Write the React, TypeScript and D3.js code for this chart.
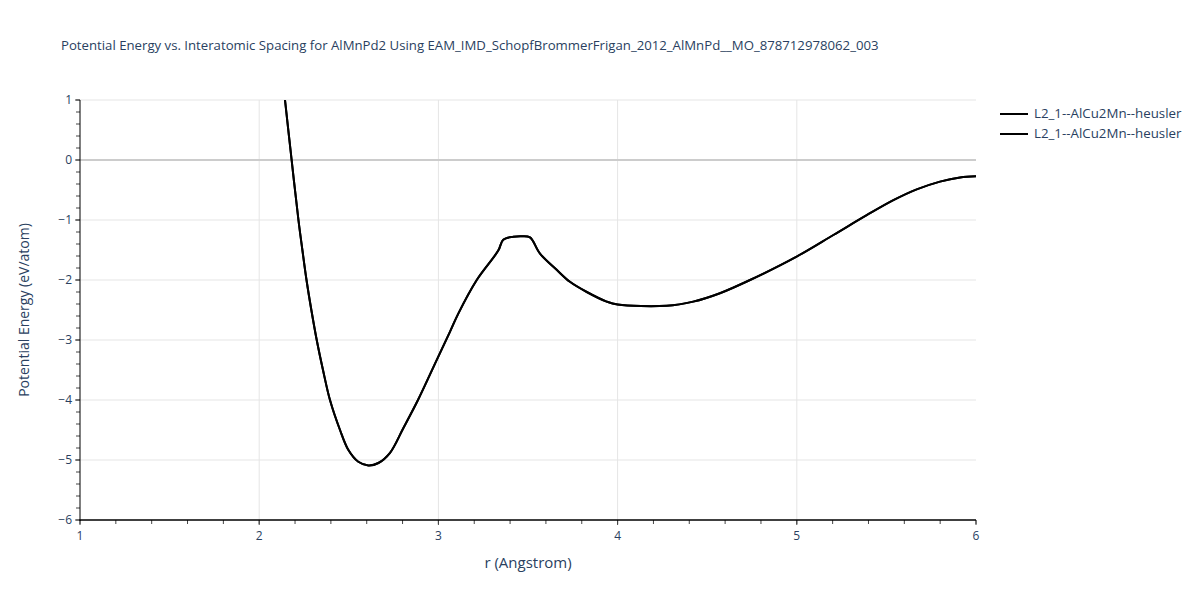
import React from "react";
import * as d3 from "d3";

const rValues = [2.144, 2.181, 2.219, 2.241, 2.264, 2.291, 2.321, 2.356, 2.395, 2.451, 2.497, 2.553, 2.609, 2.665, 2.73, 2.804, 2.886, 2.991, 3.065, 3.111, 3.214, 3.334, 3.362, 3.418, 3.465, 3.511, 3.567, 3.66, 3.734, 3.828, 3.939, 4.0, 4.274, 4.422, 4.571, 4.739, 4.999, 5.204, 5.39, 5.539, 5.669, 5.799, 5.911, 6.0];
const energyValues = [1.0, 0.0, -1.0, -1.5, -2.0, -2.5, -3.0, -3.5, -4.0, -4.5, -4.83, -5.03, -5.09, -5.05, -4.88, -4.47, -4.0, -3.33, -2.86, -2.56, -2.0, -1.51, -1.33, -1.28, -1.27, -1.29, -1.56, -1.83, -2.03, -2.2, -2.36, -2.41, -2.43, -2.36, -2.22, -2.0, -1.61, -1.25, -0.92, -0.67, -0.49, -0.36, -0.29, -0.27];
const xTicks = [1, 2, 3, 4, 5, 6];
const yTicks = [1, 0, -1, -2, -3, -4, -5, -6];
const legendLabels = ["L2_1--AlCu2Mn--heusler", "L2_1--AlCu2Mn--heusler"];
const titleText = "Potential Energy vs. Interatomic Spacing for AlMnPd2 Using EAM_IMD_SchopfBrommerFrigan_2012_AlMnPd__MO_878712978062_003";

export default function App() {
  const W = 1200, H = 600;
  const left = 80, right = 976, top = 100, bottom = 520;
  const x = d3.scaleLinear().domain([1, 6]).range([left, right]);
  const y = d3.scaleLinear().domain([-6, 1]).range([bottom, top]);
  const pts = rValues.map((r, i) => [r, energyValues[i]] as [number, number]);
  const line = d3.line<[number, number]>().x(d => x(d[0])).y(d => y(d[1])).curve(d3.curveCatmullRom.alpha(0.5));
  const xMinor = d3.range(1, 6.001, 0.2);
  const yMinor = d3.range(-6, 1.001, 0.2);
  const font = "'Open Sans', verdana, arial, sans-serif";
  const txt = "#2a3f5f";
  return (
    <svg width={W} height={H} style={{ position: "absolute", left: 0, top: 0, background: "#fff" }} fontFamily={font}>
      <defs>
        <clipPath id="plotclip">
          <rect x={left} y={top - 1} width={right - left} height={bottom - top + 1} />
        </clipPath>
      </defs>
      <text x={61} y={50} fontSize={13.2} fill={txt}>{titleText}</text>
      {xTicks.filter(t => t > 1 && t < 6).map(t => (
        <line key={"gx" + t} x1={x(t)} x2={x(t)} y1={top} y2={bottom} stroke="#e5e5e5" strokeWidth={1} />
      ))}
      {yTicks.filter(t => t !== 0 && t !== -6).map(t => (
        <line key={"gy" + t} x1={left} x2={right} y1={y(t)} y2={y(t)} stroke="#e5e5e5" strokeWidth={1} />
      ))}
      <line x1={left} x2={right} y1={y(0)} y2={y(0)} stroke="#cccccc" strokeWidth={2} />
      {xMinor.map((t, i) => (
        <line key={"xm" + i} x1={x(t)} x2={x(t)} y1={bottom} y2={bottom + 4} stroke="#444" strokeWidth={1} />
      ))}
      {yMinor.map((t, i) => (
        <line key={"ym" + i} x1={left - 4} x2={left} y1={y(t)} y2={y(t)} stroke="#444" strokeWidth={1} />
      ))}
      {xTicks.map(t => (
        <line key={"xt" + t} x1={x(t)} x2={x(t)} y1={bottom} y2={bottom + 5} stroke="#444" strokeWidth={1} />
      ))}
      {yTicks.map(t => (
        <line key={"yt" + t} x1={left - 5} x2={left} y1={y(t)} y2={y(t)} stroke="#444" strokeWidth={1} />
      ))}
      <line x1={left} x2={left} y1={top} y2={bottom + 1} stroke="#000" strokeWidth={1} />
      <line x1={left - 0.5} x2={right} y1={bottom} y2={bottom} stroke="#000" strokeWidth={1.5} />
      {xTicks.map(t => (
        <text key={"xl" + t} x={x(t)} y={bottom + 20} fontSize={12} fill={txt} textAnchor="middle">{t}</text>
      ))}
      {yTicks.map(t => (
        <text key={"yl" + t} x={left - 8} y={y(t) + 4} fontSize={12} fill={txt} textAnchor="end">{t < 0 ? "\u2212" + Math.abs(t) : String(t)}</text>
      ))}
      <text x={(left + right) / 2} y={568} fontSize={15} fill={txt} textAnchor="middle">r (Angstrom)</text>
      <text transform={`translate(29, ${(top + bottom) / 2}) rotate(-90)`} fontSize={14} fill={txt} textAnchor="middle">Potential Energy (eV/atom)</text>
      <g clipPath="url(#plotclip)">
        <path d={line(pts) || ""} fill="none" stroke="#000" strokeWidth={2} />
        <path d={line(pts) || ""} fill="none" stroke="#000" strokeWidth={2} />
      </g>
      {legendLabels.map((l, i) => (
        <g key={"lg" + i}>
          <line x1={1000} x2={1028} y1={114 + i * 20} y2={114 + i * 20} stroke="#000" strokeWidth={2} />
          <text x={1034} y={118 + i * 20} fontSize={13.3} fill={txt}>{l}</text>
        </g>
      ))}
    </svg>
  );
}
